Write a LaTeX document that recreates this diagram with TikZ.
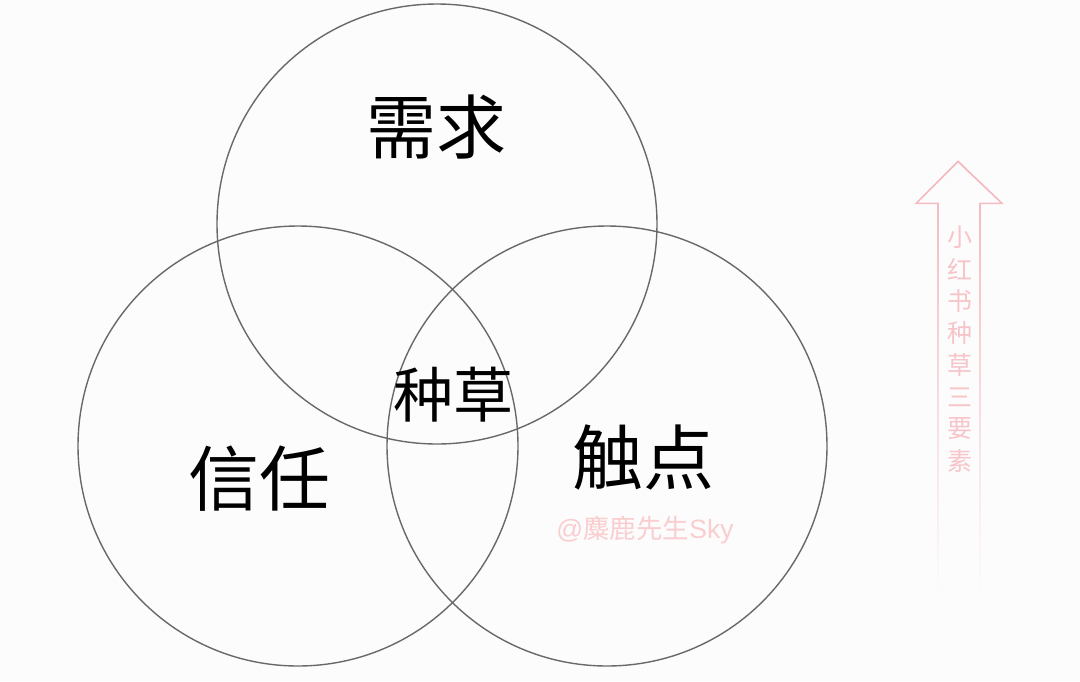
\documentclass[tikz,border=0pt]{standalone}
\usepackage{fontspec}
\usepackage{xcolor}
\usepackage{tikz}
\usetikzlibrary{calc, fadings}
\newfontfamily\cjk{Noto Sans CJK SC}

\definecolor{ringgray}{RGB}{105,105,105}
\definecolor{arrowpink}{RGB}{244,180,186}
\definecolor{textpink}{RGB}{247,196,200}
\definecolor{markpink}{RGB}{250,205,207}
\definecolor{paper}{RGB}{253,252,253}

\tikzfading[name=arrowfade, top color=transparent!0, middle color=transparent!20, bottom color=transparent!100]

\tikzset{
	ring/.style = {draw = ringgray, line width = 1.4pt},
	bigword/.style = {font = \cjk\fontsize{#1}{#1}\selectfont, inner sep = 0pt}
}

\begin{document}
\begin{tikzpicture}[x=1pt, y=-1pt]
		\def\r{220};
		
		\fill [paper] (0,0) rectangle (1080,681);
		\useasboundingbox (0,0) rectangle (1080,681);
		
		\coordinate (need centre) at (437,224);
		\coordinate (trust centre) at (298,446);
		\coordinate (touch centre) at (607,446);
		
		\draw [ring] (need centre) circle [radius = \r];
		\draw [ring] (trust centre) circle [radius = \r];
		\draw [ring] (touch centre) circle [radius = \r];
		
		\node [bigword = 70] (need) at (436,127) {需求};
		\node [bigword = 71] (trust) at (259,479) {信任};
		\node [bigword = 71] (touch) at (643,458) {触点};
		\node [bigword = 60] (seed) at (453,395) {种草};
		
		\node [font = \fontspec{Liberation Sans}\fontsize{26.5}{26.5}\selectfont, text = markpink, inner sep = 0pt] (mark) at (645,530) {@{\cjk 麋鹿先生}Sky};
		
		% arrow on the right
		\draw [arrowpink, line width = 1.6pt, line join = miter, path fading = arrowfade]
			(938,593) -- (938,203) -- (916,203) -- (958,161) -- (1002,203) -- (980,203) -- (980,593);
		
		\foreach \c [count = \i from 0] in {小,红,书,种,草,三,要,素}
			\node [font = \cjk\fontsize{25}{25}\selectfont, text = textpink, inner sep = 0pt] (tag \i) at (960,{237 + 32*\i}) {\c};
	\end{tikzpicture}
\end{document}
